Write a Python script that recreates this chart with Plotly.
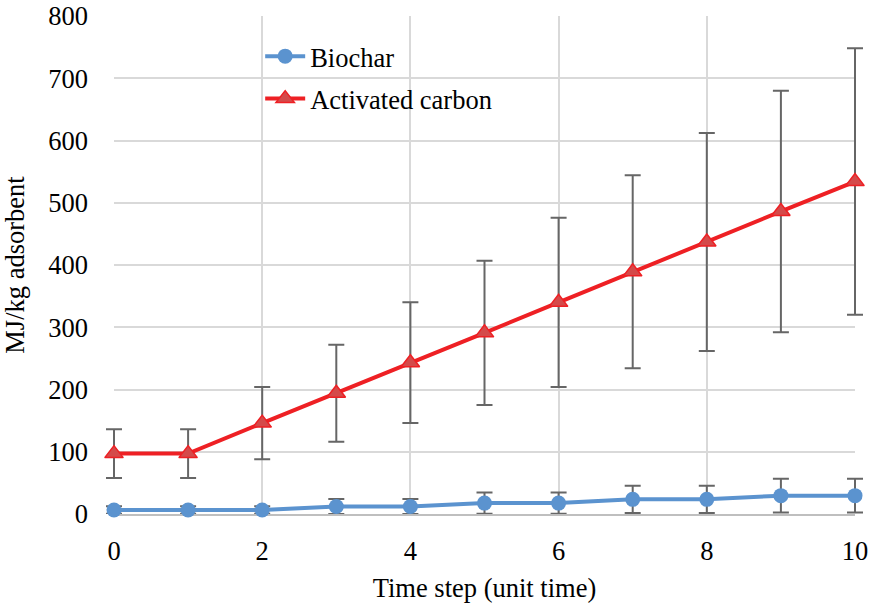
import plotly.graph_objects as go

time_steps = [0, 1, 2, 3, 4, 5, 6, 7, 8, 9, 10]
biochar = [6.5, 6.5, 6.5, 12, 12, 17.5, 17.5, 23.5, 23.5, 29.5, 29.5]
biochar_err = [6, 6, 6, 12, 12, 17, 17, 22, 22, 27, 27]
activated = [97, 97, 146, 194, 243, 291, 340, 389, 437, 486, 534]
activated_err = [39, 39, 58, 78, 97, 116, 136, 155, 175, 194, 214]

font_family = "Liberation Serif"
fs = 26.5

W, H = 869, 606
ML, MR, MT, MB = 103, 3, 16, 92   # outer plotting region (for unclipped error bars)
PAD = 11                          # px between outer region and visible axes
plot_w = W - ML - MR
x_min, x_max = 0, 10
y_min, y_max = 0, 800
px_per_unit = (plot_w - 2 * PAD) / (x_max - x_min)
ext = PAD / px_per_unit

fig = go.Figure()
# empty trace so that the visible axes (x, y) are drawn
fig.add_trace(go.Scatter(x=[], y=[], xaxis="x", yaxis="y", showlegend=False,
                         hoverinfo="skip"))
fig.add_trace(go.Scatter(
    x=time_steps, y=biochar, name="Biochar", mode="lines+markers",
    legendgroup="a", xaxis="x2", yaxis="y2",
    line=dict(color="#5b93cf", width=4),
    marker=dict(symbol="circle", size=15, color="#5b93cf"),
    error_y=dict(type="data", array=biochar_err, visible=True,
                 color="#666666", thickness=2, width=8),
    cliponaxis=False, hoverinfo="skip",
))
fig.add_trace(go.Scatter(
    x=time_steps, y=activated, name="Activated carbon", mode="lines+markers",
    legendgroup="b", xaxis="x2", yaxis="y2",
    line=dict(color="#ee2024", width=4),
    marker=dict(symbol="triangle-up", size=16, color="#d44a4a",
                line=dict(color="#ee2024", width=1.5)),
    error_y=dict(type="data", array=activated_err, visible=True,
                 color="#666666", thickness=2, width=8),
    cliponaxis=False, hoverinfo="skip",
))

fig.update_layout(
    width=W, height=H,
    margin=dict(l=ML, r=MR, t=MT, b=MB, autoexpand=False),
    paper_bgcolor="white", plot_bgcolor="rgba(0,0,0,0)",
    font=dict(family=font_family, size=fs, color="#000000"),
    showlegend=True,
    legend=dict(x=0.206, y=0.967, xanchor="left", yanchor="top",
                bgcolor="rgba(0,0,0,0)", font=dict(size=fs, family=font_family),
                itemwidth=40, tracegroupgap=5),
    xaxis=dict(
        domain=[PAD / plot_w, 1 - PAD / plot_w],
        range=[x_min, x_max], tickmode="array", tickvals=[0, 2, 4, 6, 8, 10],
        showgrid=True, gridcolor="#d9d9d9", gridwidth=1.5,
        showline=True, linecolor="#bfbfbf", linewidth=1.5,
        zeroline=False, ticks="", ticklabelstandoff=12, automargin=False,
        title=dict(text="Time step (unit time)", standoff=14,
                   font=dict(size=fs, family=font_family)),
        tickfont=dict(size=fs, family=font_family),
        fixedrange=True, anchor="y",
    ),
    yaxis=dict(
        range=[y_min, y_max], tickmode="array",
        tickvals=[0, 100, 200, 300, 400, 500, 600, 700, 800],
        showgrid=True, gridcolor="#d9d9d9", gridwidth=1.5,
        showline=False, zeroline=False, ticks="", ticklabelstandoff=25,
        automargin=False, anchor="x",
        title=dict(text="MJ/kg adsorbent", standoff=21,
                   font=dict(size=fs, family=font_family)),
        tickfont=dict(size=fs, family=font_family),
        fixedrange=True,
    ),
    xaxis2=dict(
        domain=[0, 1], range=[x_min - ext, x_max + ext],
        visible=False, showgrid=False, zeroline=False, anchor="y2",
        fixedrange=True,
    ),
    yaxis2=dict(
        range=[y_min, y_max], overlaying="y", anchor="x2",
        visible=False, showgrid=False, zeroline=False, fixedrange=True,
    ),
)

fig.write_html(
    "out.html",
    config={"displayModeBar": False},
    post_script="document.body.style.margin='0';document.body.style.overflow='hidden';",
)
